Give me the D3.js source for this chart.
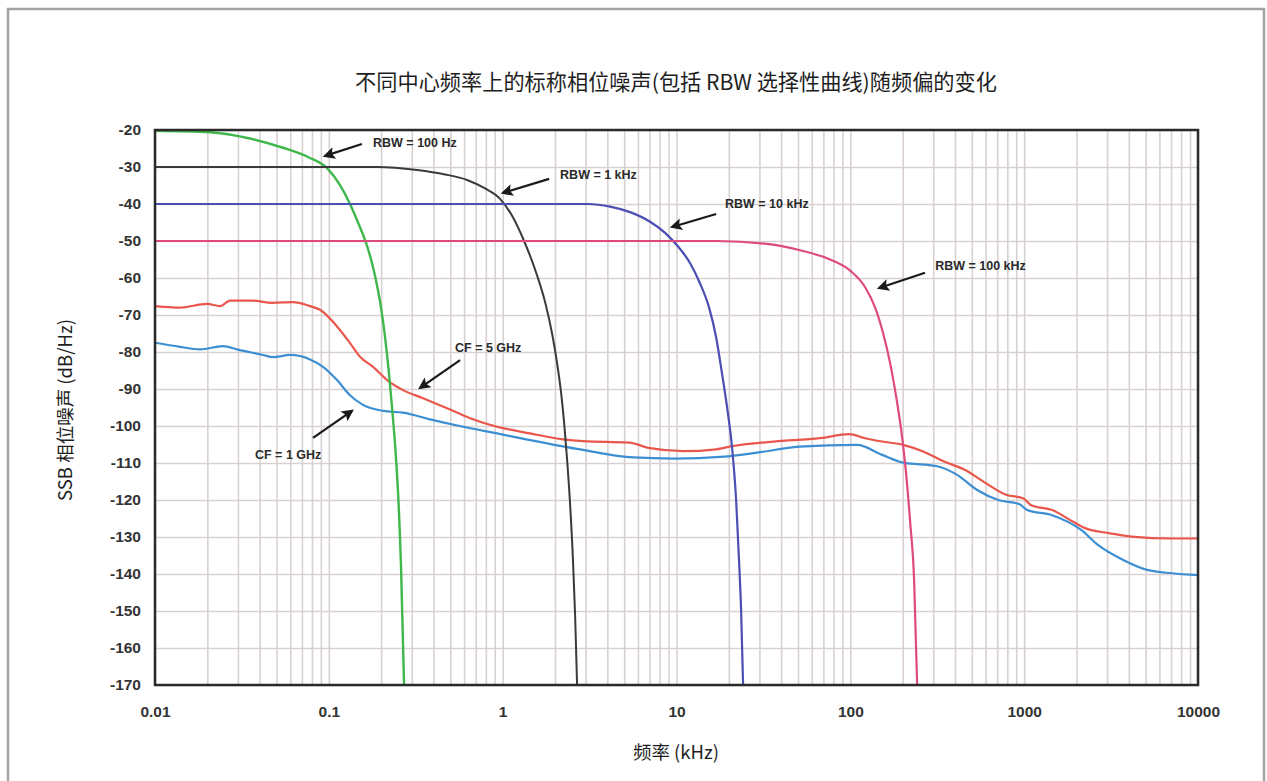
<!DOCTYPE html>
<html>
<head>
<meta charset="utf-8">
<script src="https://cdn.jsdelivr.net/npm/d3@7"></script>
<style>
  html, body { margin: 0; padding: 0; background: #fff; }
  svg { display: block; }
</style>
</head>
<body>
<svg id="chart" width="1267" height="781"></svg>
<script>
// ---- data: frequency offset (kHz), SSB phase noise (dBc/Hz) ----
const xTickValues = [0.01, 0.1, 1, 10, 100, 1000, 10000];
const xTickLabels = ["0.01", "0.1", "1", "10", "100", "1000", "10000"];
const yTickValues = [-20, -30, -40, -50, -60, -70, -80, -90, -100, -110, -120, -130, -140, -150, -160, -170];

// RBW selectivity curves
const rbw100Hz = [[0.01,-20.2],[0.0207,-20.6],[0.0352,-22.3],[0.0545,-24.8],[0.0759,-27.3],[0.0977,-30.3],[0.116,-34.9],[0.1324,-40],[0.1472,-45],[0.1637,-50.5],[0.1773,-56],[0.1894,-62],[0.1997,-68],[0.2106,-76],[0.222,-86],[0.231,-95],[0.2404,-105],[0.2502,-118],[0.2602,-138],[0.2709,-170]];
const rbw1kHz = [[0.01,-30],[0.1894,-30],[0.3218,-30.8],[0.4663,-32],[0.6241,-33.5],[0.7921,-35.8],[0.9661,-38.6],[1.133,-43.2],[1.328,-50],[1.557,-58.5],[1.754,-66.5],[1.924,-75],[2.056,-83],[2.168,-91],[2.256,-99],[2.347,-109],[2.442,-121],[2.542,-137],[2.61,-151],[2.68,-170]];
const rbw10kHz = [[0.01,-40],[3.1,-40],[4.15,-40.7],[5.408,-42.2],[7.05,-44.8],[8.6,-47.8],[10.21,-51.5],[11.98,-56],[13.67,-61.5],[15.4,-68],[16.9,-76],[18.3,-86],[19.55,-95],[20.89,-106],[22.03,-120],[22.93,-137],[23.54,-150],[24.16,-170]];
const rbw100kHz = [[0.01,-50],[17.13,-50],[33.21,-50.8],[51.43,-52.5],[76.52,-55],[99.7,-58],[121.7,-62.5],[138.9,-68],[154.5,-75],[169.4,-83],[183.4,-92],[196,-101],[209.5,-113],[220.9,-126],[232.9,-142],[242.3,-170]];

// measured phase noise at two carrier frequencies
const cf5GHz = [[0.01,-67.6],[0.0139,-68],[0.0199,-67],[0.0237,-67.6],[0.027,-66.1],[0.0366,-66.1],[0.0459,-66.7],[0.0622,-66.5],[0.078,-67.6],[0.089,-68.6],[0.1115,-73.1],[0.1324,-77.6],[0.1512,-81.3],[0.1796,-84],[0.2191,-87.8],[0.2673,-90.3],[0.3483,-92.5],[0.4786,-95.2],[0.6494,-97.9],[0.9286,-100.2],[1.438,-102],[2.226,-103.6],[2.9,-104.1],[5.337,-104.5],[7.05,-106],[10.91,-106.8],[16.9,-106.3],[21.17,-105.4],[36.44,-104.2],[67.04,-103.3],[98.4,-102.2],[121.7,-103.3],[152.4,-104.2],[201.3,-105.1],[262.4,-106.9],[346.5,-109.6],[457.7,-111.9],[604.6,-115.5],[787.8,-118.6],[986.8,-119.5],[1097,-121.4],[1449,-122.7],[1914,-125.9],[2244,-127.6],[3124,-129],[4128,-129.9],[7105,-130.4],[10000,-130.4]];
const cf1GHz = [[0.01,-77.5],[0.0139,-78.6],[0.01815,-79.3],[0.0246,-78.4],[0.0296,-79.3],[0.0418,-80.8],[0.0478,-81.4],[0.0598,-80.8],[0.078,-82],[0.0926,-84],[0.1115,-87.6],[0.1324,-91.7],[0.1573,-94.3],[0.2051,-95.9],[0.2673,-96.4],[0.3822,-98.2],[0.5916,-100.2],[0.9286,-102],[1.438,-103.8],[2.85,-106.4],[5.627,-108.5],[9.687,-108.8],[18.78,-108.3],[29.1,-107.2],[50.75,-105.6],[109.4,-105.1],[152.4,-107.8],[201.3,-109.9],[311.6,-110.8],[411.7,-113.2],[536.6,-117.3],[708.6,-120],[935.9,-121.1],[1040,-122.7],[1449,-124.1],[2128,-128.1],[2666,-132.2],[3712,-136.2],[5103,-138.9],[7105,-139.8],[10000,-140.3]];

// annotations: text anchor point and arrow (from -> tip), all in data units
const annotationTexts = ["RBW = 100 Hz", "RBW = 1 kHz", "RBW = 10 kHz", "RBW = 100 kHz", "CF = 5 GHz", "CF = 1 GHz"];
const annotationTextAt = [[0.1796,-23.5],[2.14,-32.2],[19.0,-40.0],[307.6,-56.8],[0.532,-78.9],[0.0376,-107.8]];
const annotationArrowFrom = [[0.155,-23.8],[1.85,-33.2],[16.9,-42.7],[269,-58.6],[0.569,-82.2],[0.0811,-103.2]];
const annotationArrowTo = [[0.0951,-27.0],[1.005,-37.0],[9.44,-46.2],[146.6,-62.7],[0.335,-89.7],[0.1358,-95.9]];

// ---- layout ----
const plot = { left: 155, right: 1198, top: 130, bottom: 685 };

const svg = d3.select("#chart");

// outer frame
svg.append("rect")
  .attr("x", 8).attr("y", 9)
  .attr("width", 1256).attr("height", 820)
  .attr("fill", "#fff")
  .attr("stroke", "#a3a3a3")
  .attr("stroke-width", 2.5);

const x = d3.scaleLog().domain([0.01, 10000]).range([plot.left, plot.right]);
const y = d3.scaleLinear().domain([-170, -20]).range([plot.bottom, plot.top]);

// log grid: 1..9 in every decade
const gridX = [];
for (let e = -2; e < 4; e++) for (let m = 1; m < 10; m++) gridX.push(m * Math.pow(10, e));
gridX.push(10000);

const gridG = svg.append("g").attr("class", "grid");
gridG.append("g")
  .attr("transform", `translate(0,${plot.bottom})`)
  .call(d3.axisBottom(x).tickValues(gridX).tickSize(-(plot.bottom - plot.top)).tickFormat(""))
  .call(g => g.select(".domain").remove())
  .call(g => g.selectAll("line").attr("stroke", "#d9d1d1").attr("stroke-width", 1.6));
gridG.append("g")
  .attr("transform", `translate(${plot.left},0)`)
  .call(d3.axisLeft(y).tickValues(yTickValues).tickSize(-(plot.right - plot.left)).tickFormat(""))
  .call(g => g.select(".domain").remove())
  .call(g => g.selectAll("line").attr("stroke", "#d9d1d1").attr("stroke-width", 1.6));

// curves
const line = d3.line()
  .x(d => x(d[0]))
  .y(d => y(d[1]))
  .curve(d3.curveMonotoneX);

svg.append("clipPath").attr("id", "plotClip")
  .append("rect")
  .attr("x", plot.left).attr("y", plot.top - 2)
  .attr("width", plot.right - plot.left).attr("height", plot.bottom - plot.top + 2);

const curves = svg.append("g").attr("clip-path", "url(#plotClip)").attr("fill", "none");
const series = [
  { data: cf1GHz, color: "#3d8fd3", width: 2.2 },
  { data: cf5GHz, color: "#e9574c", width: 2.2 },
  { data: rbw100Hz, color: "#3fb74b", width: 2.4 },
  { data: rbw1kHz, color: "#3a3a3a", width: 2 },
  { data: rbw10kHz, color: "#4b4fb3", width: 2.2 },
  { data: rbw100kHz, color: "#df4a7e", width: 2.2 }
];
curves.selectAll("path").data(series).join("path")
  .attr("d", s => line(s.data))
  .attr("stroke", s => s.color)
  .attr("stroke-width", s => s.width)
  .attr("stroke-linejoin", "round");

// plot frame
svg.append("rect")
  .attr("x", plot.left).attr("y", plot.top)
  .attr("width", plot.right - plot.left).attr("height", plot.bottom - plot.top)
  .attr("fill", "none").attr("stroke", "#2a2a2a").attr("stroke-width", 2.5);

// axes labels
const tickFont = "'Liberation Sans', Arial, sans-serif";
svg.append("g")
  .attr("transform", `translate(${plot.left},0)`)
  .call(d3.axisLeft(y).tickValues(yTickValues).tickSize(0).tickPadding(14).tickFormat(d => String(d)))
  .call(g => g.select(".domain").remove())
  .call(g => g.selectAll("text")
    .attr("font-family", tickFont).attr("font-size", 15.5).attr("font-weight", "bold").attr("fill", "#333"));

svg.append("g")
  .attr("transform", `translate(0,${plot.bottom})`)
  .call(d3.axisBottom(x).tickValues(xTickValues).tickSize(0).tickPadding(21).tickFormat((d, i) => xTickLabels[i]))
  .call(g => g.select(".domain").remove())
  .call(g => g.selectAll("text")
    .attr("font-family", tickFont).attr("font-size", 15.5).attr("font-weight", "bold").attr("fill", "#333"));

// titles
const cjkFont = "'Noto Sans CJK SC', 'Noto Sans', sans-serif";
svg.append("text")
  .attr("x", 676).attr("y", 80)
  .attr("text-anchor", "middle").attr("dominant-baseline", "central")
  .attr("font-family", cjkFont).attr("font-size", 21.2).attr("fill", "#1e1e1e")
  .text("不同中心频率上的标称相位噪声(包括 RBW 选择性曲线)随频偏的变化");

svg.append("text")
  .attr("transform", "translate(64,410) rotate(-90)")
  .attr("text-anchor", "middle").attr("dominant-baseline", "central")
  .attr("font-family", cjkFont).attr("font-size", 18.5).attr("fill", "#1e1e1e")
  .text("SSB 相位噪声 (dB/Hz)");

svg.append("text")
  .attr("x", 676).attr("y", 751)
  .attr("text-anchor", "middle").attr("dominant-baseline", "central")
  .attr("font-family", cjkFont).attr("font-size", 18.5).attr("fill", "#1e1e1e")
  .text("频率 (kHz)");

// annotation arrows
svg.append("defs").append("marker")
  .attr("id", "arrowHead")
  .attr("viewBox", "0 0 10 10")
  .attr("refX", 8).attr("refY", 5)
  .attr("markerWidth", 6.5).attr("markerHeight", 5.5)
  .attr("markerUnits", "strokeWidth")
  .attr("orient", "auto")
  .append("path").attr("d", "M0,0 L10,5 L0,10 L2,5 Z").attr("fill", "#1a1a1a");

const ann = svg.append("g");
ann.selectAll("line").data(annotationTexts).join("line")
  .attr("x1", (d, i) => x(annotationArrowFrom[i][0]))
  .attr("y1", (d, i) => y(annotationArrowFrom[i][1]))
  .attr("x2", (d, i) => x(annotationArrowTo[i][0]))
  .attr("y2", (d, i) => y(annotationArrowTo[i][1]))
  .attr("stroke", "#1a1a1a").attr("stroke-width", 2.2)
  .attr("marker-end", "url(#arrowHead)");

ann.selectAll("text").data(annotationTexts).join("text")
  .attr("x", (d, i) => x(annotationTextAt[i][0]))
  .attr("y", (d, i) => y(annotationTextAt[i][1]))
  .attr("dominant-baseline", "central")
  .attr("font-family", tickFont).attr("font-size", 12.5).attr("font-weight", "bold").attr("fill", "#2a2a2a")
  .text(d => d);
</script>
</body>
</html>
